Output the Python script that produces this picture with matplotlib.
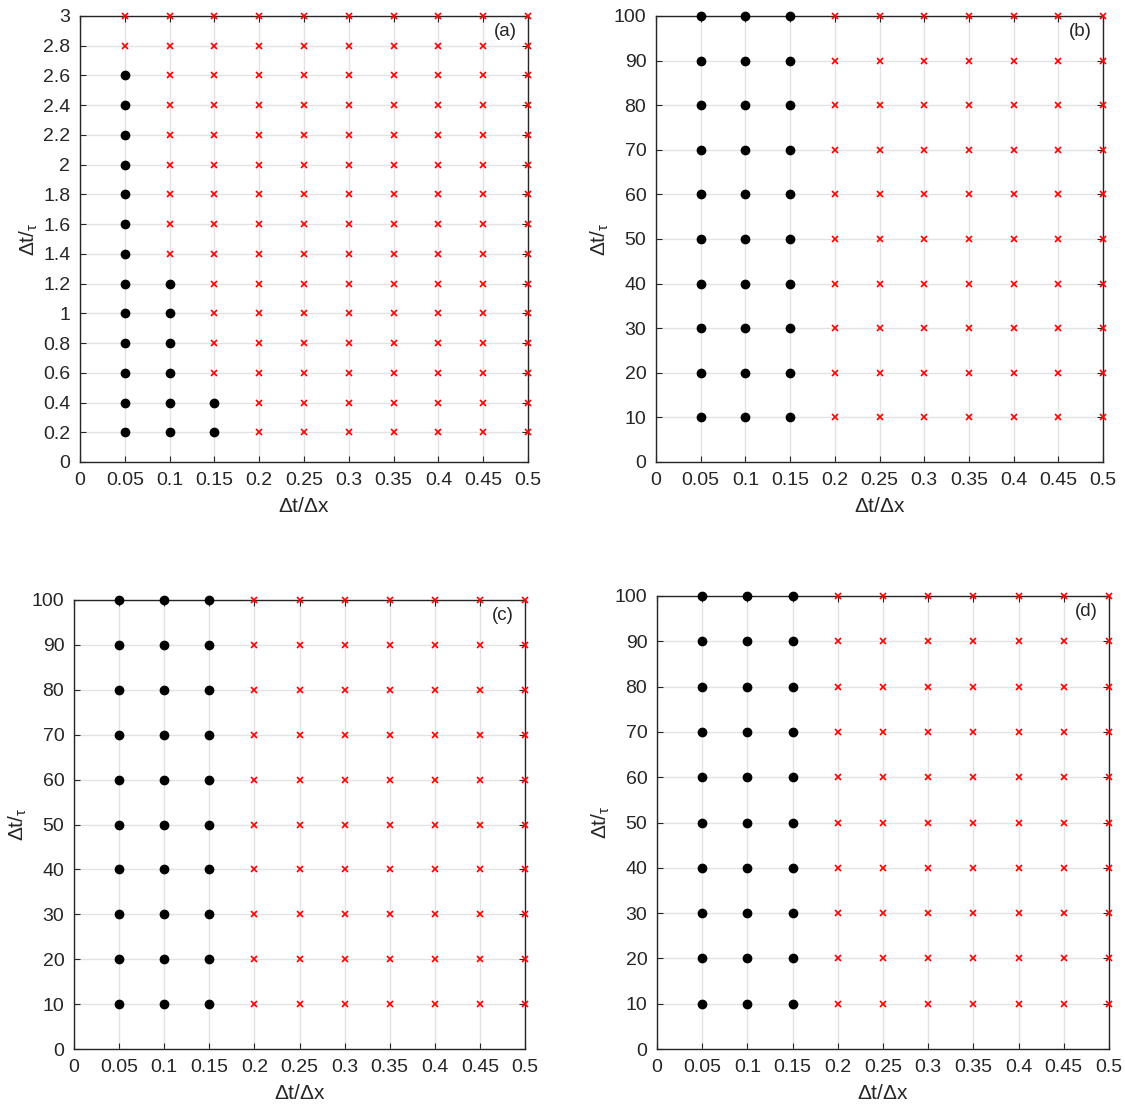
import numpy as np
import matplotlib
matplotlib.use("Agg")
import matplotlib.pyplot as plt

plt.rcParams['font.family'] = ['Liberation Sans', 'DejaVu Sans']
plt.rcParams['mathtext.fontset'] = 'custom'
plt.rcParams['mathtext.rm'] = 'Liberation Sans'
plt.rcParams['mathtext.it'] = 'Liberation Sans'

# data
ratio_x = [0.05, 0.1, 0.15, 0.2, 0.25, 0.3, 0.35, 0.4, 0.45, 0.5]
y_a = [0.2, 0.4, 0.6, 0.8, 1.0, 1.2, 1.4, 1.6, 1.8, 2.0, 2.2, 2.4, 2.6, 2.8, 3.0]
y_bcd = [10, 20, 30, 40, 50, 60, 70, 80, 90, 100]
# largest stable dt/tau for each dt/dx (0 = none stable)
stable_a = [2.6, 1.2, 0.4, 0, 0, 0, 0, 0, 0, 0]
stable_bcd = [100, 100, 100, 0, 0, 0, 0, 0, 0, 0]

xticks = [0, 0.05, 0.1, 0.15, 0.2, 0.25, 0.3, 0.35, 0.4, 0.45, 0.5]
xticklabels = ['0', '0.05', '0.1', '0.15', '0.2', '0.25', '0.3', '0.35', '0.4', '0.45', '0.5']
yticks_a = [0, 0.2, 0.4, 0.6, 0.8, 1, 1.2, 1.4, 1.6, 1.8, 2, 2.2, 2.4, 2.6, 2.8, 3]
yticklabels_a = ['0', '0.2', '0.4', '0.6', '0.8', '1', '1.2', '1.4', '1.6', '1.8', '2',
                 '2.2', '2.4', '2.6', '2.8', '3']
yticks_bcd = [0, 10, 20, 30, 40, 50, 60, 70, 80, 90, 100]

panels = [
    ('(a)', y_a, stable_a, yticks_a, yticklabels_a, 3, [80, 528, 16, 462]),
    ('(b)', y_bcd, stable_bcd, yticks_bcd, [str(v) for v in yticks_bcd], 100, [656, 1103, 16, 462]),
    ('(c)', y_bcd, stable_bcd, yticks_bcd, [str(v) for v in yticks_bcd], 100, [74, 525, 600, 1049]),
    ('(d)', y_bcd, stable_bcd, yticks_bcd, [str(v) for v in yticks_bcd], 100, [657, 1109, 596, 1049]),
]

W, H = 1125, 1109
fig = plt.figure(figsize=(W / 100, H / 100), dpi=100)
txt = '#262626'

for label, yv, stab, yt, ytl, ymax, box in panels:
    l, r, t, b = box
    ax = fig.add_axes([l / W, 1 - b / H, (r - l) / W, (b - t) / H])
    sx, sy, ux, uy = [], [], [], []
    for i, xv in enumerate(ratio_x):
        for v in yv:
            if v <= stab[i] + 1e-9:
                sx.append(xv); sy.append(v)
            else:
                ux.append(xv); uy.append(v)
    ax.plot(sx, sy, 'o', color='black', markersize=6, clip_on=False, zorder=5)
    ax.plot(ux, uy, 'x', color='red', markersize=5, markeredgewidth=1.2, clip_on=False, zorder=5)
    ax.set_xlim(0, 0.5)
    ax.set_ylim(0, ymax)
    ax.set_xticks(xticks)
    ax.set_xticklabels(xticklabels)
    ax.set_yticks(yt)
    ax.set_yticklabels(ytl)
    ax.grid(True, color='#e3e3e3', linewidth=1)
    ax.set_axisbelow(True)
    ax.tick_params(direction='in', top=True, right=True, labelsize=14, colors=txt,
                   length=4, width=0.8, pad=7)
    for sp in ax.spines.values():
        sp.set_color('#262626')
        sp.set_linewidth(1)
    ax.set_xlabel(r'$\Delta$t/$\Delta$x', fontsize=15, color=txt, labelpad=6)
    ax.set_ylabel(r'$\Delta$t/$_{\tau}$', fontsize=15, color=txt, labelpad=2)
    ax.text(0.975, 0.985, label, transform=ax.transAxes, ha='right', va='top',
            fontsize=13.5, color=txt)

fig.savefig('out.png', dpi=100)
